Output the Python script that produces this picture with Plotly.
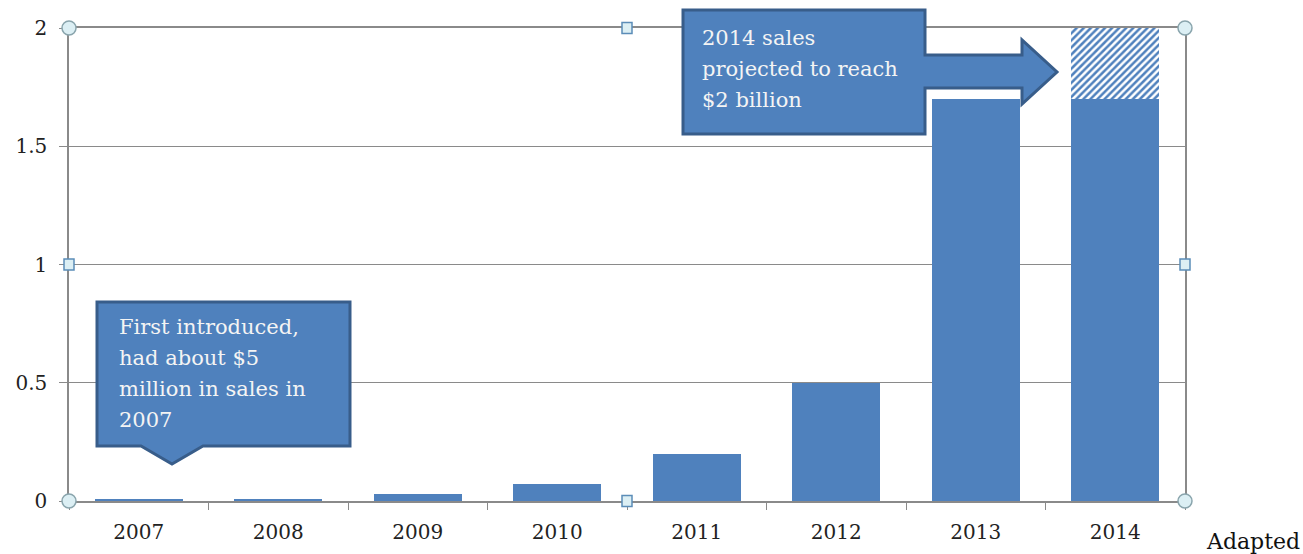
import plotly.graph_objects as go

years = ["2007", "2008", "2009", "2010", "2011", "2012", "2013", "2014"]
sales = [0.005, 0.008, 0.03, 0.072, 0.2, 0.5, 1.7, 1.7]
projected = [0, 0, 0, 0, 0, 0, 0, 0.3]
y_ticks = [0, 0.5, 1, 1.5, 2]
y_tick_text = ["0", "0.5", "1", "1.5", "2"]

W, H = 1303, 554
L, R, T, B = 69, 1185, 28, 501

def px(x):
    return (x - L) / (R - L)

def py(y):
    return (B - y) / (B - T)

BLUE = "#4F81BD"
DARK = "#385D8A"
GRID = "#8A8A8A"

fig = go.Figure()
fig.add_trace(go.Bar(x=years, y=sales, marker=dict(color=BLUE, line=dict(width=0)),
                     width=0.63, hoverinfo="skip"))
fig.add_trace(go.Bar(x=years, y=projected,
                     marker=dict(color=BLUE, line=dict(width=0),
                                 pattern=dict(shape="/", fgcolor="#FFFFFF", fgopacity=1, size=5,
                                              solidity=0.5, fillmode="overlay")),
                     width=0.63, hoverinfo="skip"))

def path(pts):
    s = "M " + " L ".join(f"{px(a):.5f},{py(b):.5f}" for a, b in pts) + " Z"
    return s

shapes = []
# callout 1
shapes.append(dict(type="path", xref="paper", yref="paper",
                   path=path([(97, 302), (350, 302), (350, 446), (203, 446), (172, 464), (141, 446), (97, 446)]),
                   fillcolor=BLUE, line=dict(color=DARK, width=3), layer="above"))
# callout 2 with arrow
shapes.append(dict(type="path", xref="paper", yref="paper",
                   path=path([(683, 10), (925, 10), (925, 55), (1022, 55), (1022, 40), (1057, 72),
                              (1022, 104), (1022, 88), (925, 88), (925, 134), (683, 134)]),
                   fillcolor=BLUE, line=dict(color=DARK, width=3), layer="above"))

# selection handles
for (hx, hy, kind) in [(L, T, "c"), (R, T, "c"), (L, B, "c"), (R, B, "c"),
                       ((L + R) / 2, T, "s"), ((L + R) / 2, B, "s"), (L, (T + B) / 2, "s"), (R, (T + B) / 2, "s")]:
    if kind == "c":
        shapes.append(dict(type="circle", xref="paper", yref="paper", xsizemode="pixel", ysizemode="pixel",
                           xanchor=px(hx), yanchor=py(hy), x0=-7, x1=7, y0=-7, y1=7,
                           fillcolor="#DCEFF4", line=dict(color="#8AA5AD", width=1.5), layer="above"))
    else:
        shapes.append(dict(type="rect", xref="paper", yref="paper", xsizemode="pixel", ysizemode="pixel",
                           xanchor=px(hx), yanchor=py(hy), x0=-5, x1=5, y0=-5.5, y1=5.5,
                           fillcolor="#DCEFF4", line=dict(color="#5B8DB8", width=1.5), layer="above"))

annotations = []
TF = "DejaVu Serif"
for i, line in enumerate(["First introduced,", "had about $5", "million in sales in", "2007"]):
    annotations.append(dict(xref="paper", yref="paper", x=px(117), y=py(327 + i * 31), text=line,
                            showarrow=False, xanchor="left", yanchor="middle",
                            font=dict(family=TF, size=21, color="#F4F4F4")))
for i, line in enumerate(["2014 sales", "projected to reach", "$2 billion"]):
    annotations.append(dict(xref="paper", yref="paper", x=px(700), y=py(38 + i * 31), text=line,
                            showarrow=False, xanchor="left", yanchor="middle",
                            font=dict(family=TF, size=21, color="#F4F4F4")))
annotations.append(dict(xref="paper", yref="paper", x=px(1204), y=py(541), text="Adapted",
                        showarrow=False, xanchor="left", yanchor="middle",
                        font=dict(family=TF, size=22, color="#111111")))

fig.update_layout(
    width=W, height=H,
    margin=dict(l=L, r=W - R, t=T, b=H - B, pad=0, autoexpand=False),
    paper_bgcolor="white", plot_bgcolor="white",
    barmode="stack", bargap=0.37, showlegend=False,
    shapes=shapes, annotations=annotations,
    xaxis=dict(type="category", showgrid=False, showline=True, mirror=True, linecolor=GRID, linewidth=1.5,
               ticks="outside", tickson="boundaries", ticklen=7, tickcolor=GRID,
               ticklabelstandoff=12, automargin=False,
               tickfont=dict(family=TF, size=20, color="#222222"), fixedrange=True),
    yaxis=dict(range=[0, 2], tickvals=y_ticks, ticktext=y_tick_text, showgrid=True, gridcolor=GRID,
               gridwidth=1.2, showline=True, mirror=True, linecolor=GRID, linewidth=1.5,
               ticks="outside", ticklen=8, tickcolor=GRID, zeroline=False,
               ticklabelstandoff=8, automargin=False,
               tickfont=dict(family=TF, size=20, color="#222222"), fixedrange=True),
)

fig.write_html("out.html", config={"displayModeBar": False})
